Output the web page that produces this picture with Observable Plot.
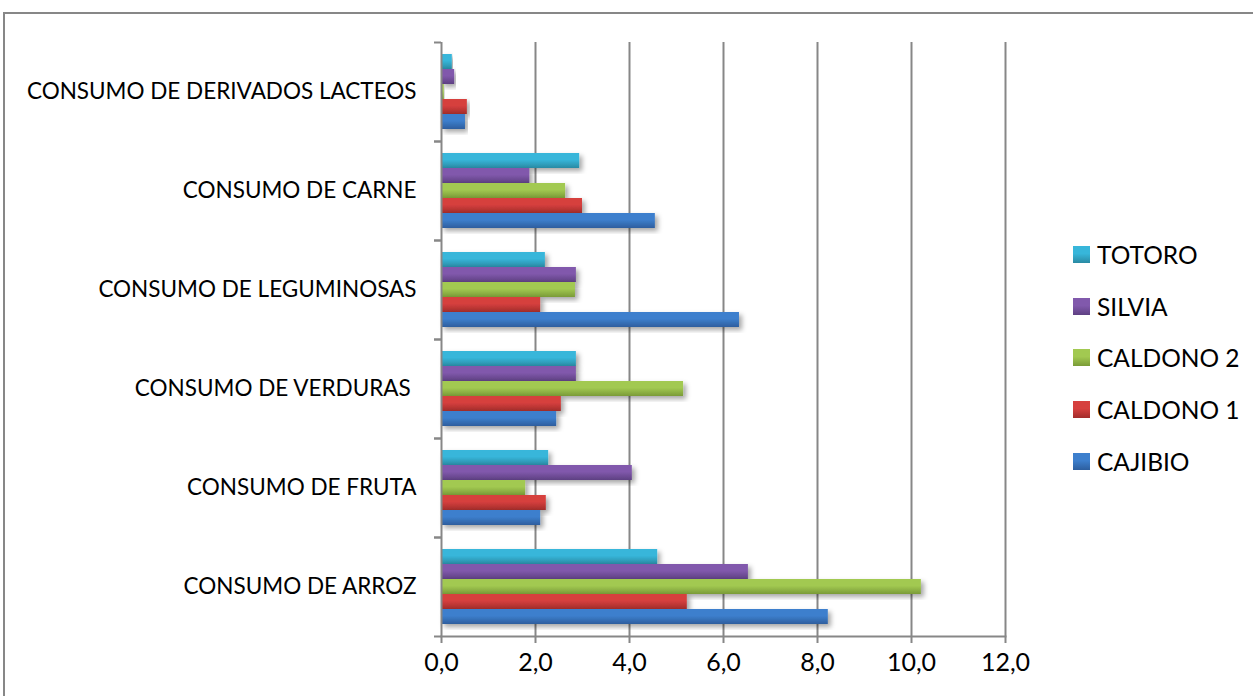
<!DOCTYPE html>
<html><head><meta charset="utf-8">
<script src="https://cdn.jsdelivr.net/npm/d3@7"></script>
<script src="https://cdn.jsdelivr.net/npm/@observablehq/plot@0.6"></script>
<style>
html,body{margin:0;padding:0;background:#fff;overflow:hidden}
#wrap{position:relative;width:1253px;height:696px}
#border{position:absolute;left:3px;top:12px;width:1260px;height:700px;border-left:2px solid #878787;border-top:2px solid #878787;}
#chart{position:absolute;left:0;top:0}
svg text{white-space:pre}
g[aria-label="bar"] rect{filter:url(#shadow)}
#legend{position:absolute;left:1073px;top:0;font-family:Lato,sans-serif;font-size:24.5px;color:#000}
.item{position:absolute;left:0;display:flex;align-items:center;white-space:nowrap;height:30px}
.sw{width:17px;height:17px;margin-right:7px}
</style>
</head><body>
<div id="wrap"><div id="border"></div><div id="chart"></div><div id="legend"></div></div>
<script>
const categories = ["CONSUMO DE DERIVADOS LACTEOS","CONSUMO DE CARNE","CONSUMO DE LEGUMINOSAS","CONSUMO DE VERDURAS ","CONSUMO DE FRUTA","CONSUMO DE ARROZ"];
const series = ["TOTORO","SILVIA","CALDONO 2","CALDONO 1","CAJIBIO"];
const totoro   = [0.23, 2.94, 2.21, 2.87, 2.28, 4.60];
const silvia   = [0.28, 1.88, 2.87, 2.87, 4.06, 6.53];
const caldono2 = [0.06, 2.64, 2.85, 5.15, 1.79, 10.21];
const caldono1 = [0.55, 3.00, 2.11, 2.55, 2.23, 5.23];
const cajibio  = [0.51, 4.55, 6.34, 2.45, 2.11, 8.23];
const xTicks = [0, 2, 4, 6, 8, 10, 12];
const colorsTop = ["#37B6DA","#8159AC","#A2C951","#D6403E","#3D7FCD"];
const colorsBot = ["#2A8AA3","#5E4082","#7A9B37","#A22C2B","#2D5E9E"];

const values = [totoro, silvia, caldono2, caldono1, cajibio];
const data = [];
categories.forEach((c, i) => series.forEach((s, j) => data.push({category: c, series: s, value: values[j][i]})));

const grey = "#878787";
const chart = Plot.plot({
  width: 1253, height: 696,
  marginLeft: 441, marginRight: 248, marginTop: 42, marginBottom: 60,
  style: {fontFamily: "Lato, sans-serif", fontSize: "22px", color: "#000", background: "transparent"},
  x: {domain: [0, 12]},
  fy: {domain: categories, padding: 0},
  y: {domain: series, paddingInner: 0, paddingOuter: 0.69, axis: null},
  marks: [
    Plot.gridX({ticks: xTicks.slice(1), stroke: grey, strokeOpacity: 1, strokeWidth: 2}),
    ...series.map((s, j) => Plot.barX(data.filter(d => d.series === s), {x: "value", y: "series", fy: "category", fill: `url(#grad${j})`})),
    Plot.ruleX([0], {stroke: grey, strokeWidth: 2}),
    Plot.frame({anchor: "bottom", facetAnchor: "bottom", stroke: grey, strokeWidth: 2}),
    Plot.axisFy({anchor: "left", tickSize: 0, tickPadding: 25, label: null, fontSize: 22.5, fill: "#000"}),
    Plot.axisFy({anchor: "left", tickSize: 7, tickFormat: () => "", label: null, dy: -49.5, stroke: grey, strokeWidth: 2}),
    Plot.axisFy({anchor: "left", tickSize: 7, tickFormat: () => "", label: null, dy: 49.5, stroke: grey, strokeWidth: 2}),
    Plot.axisX({ticks: xTicks, tickFormat: d => d.toFixed(1).replace(".", ","), tickSize: 7, tickPadding: 10, label: null, fontSize: 25, stroke: grey, strokeWidth: 2, fill: "#000"})
  ]
});

let defs = "";
series.forEach((s, j) => {
  defs += `<linearGradient id="grad${j}" x1="0" y1="0" x2="0" y2="1">
    <stop offset="0" stop-color="${colorsTop[j]}"/>
    <stop offset="0.45" stop-color="${colorsTop[j]}"/>
    <stop offset="1" stop-color="${colorsBot[j]}"/></linearGradient>`;
});
defs += `<filter id="shadow" x="-5%" y="-20%" width="115%" height="160%"><feDropShadow dx="3" dy="3" stdDeviation="2.5" flood-color="#000" flood-opacity="0.35"/></filter>`;
d3.select(chart).insert("defs", ":first-child").html(defs);
document.getElementById("chart").appendChild(chart);

const legendY = [254, 306, 357, 409, 461];
const legend = document.getElementById("legend");
series.forEach((s, j) => {
  const it = document.createElement("div");
  it.className = "item";
  it.style.top = (legendY[j] - 15) + "px";
  it.innerHTML = `<div class="sw" style="background:linear-gradient(${colorsTop[j]} 45%, ${colorsBot[j]})"></div><span>${s}</span>`;
  legend.appendChild(it);
});
</script>
</body></html>
